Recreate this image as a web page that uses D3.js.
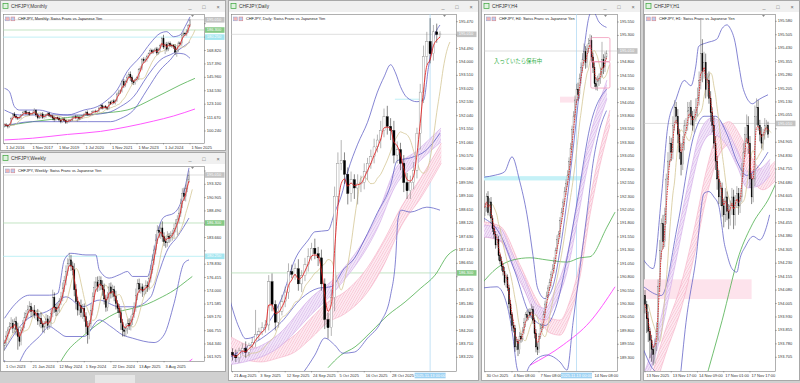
<!DOCTYPE html>
<html>
<head>
<meta charset="utf-8">
<script src="https://cdn.jsdelivr.net/npm/d3@7"></script>
<style>
  body { margin: 0; background: #d3d3d3; }
  svg { display: block; font-family: "Liberation Sans", Arial, sans-serif; }
</style>
</head>
<body>
<script>
// ---------- data ----------
const currentPrice = 195.01;
const greenLevel = 186.30;
const cyanLevel = 180.25;
const cursorLabel = "2025.11.13 00:00";
const noteText = "入っていたら保有中";

// monthly (Jul 2016 .. Nov 2025)
const monthlyClose = [
  105.5,105.0,104.3,106.0,111.0,114.7,
  113.0,111.6,111.2,111.9,114.0,115.8,116.6,114.9,115.9,114.2,114.9,115.6,
  117.8,114.0,111.5,111.8,114.7,111.8,112.6,113.9,115.3,113.4,113.0,111.4,
  109.9,111.5,111.1,109.6,108.3,110.5,109.2,107.6,108.3,109.2,109.6,112.1,
  112.3,111.6,112.0,110.8,111.6,113.2,114.5,116.3,114.5,114.2,114.6,116.9,
  117.2,116.9,117.2,119.8,121.9,119.6,121.1,120.3,119.4,124.5,123.6,125.9,
  124.3,126.2,131.9,133.6,134.8,142.2,139.3,142.5,146.2,148.6,145.7,142.2,
  141.3,144.2,145.7,152.5,153.6,161.0,160.2,161.3,163.8,166.1,168.8,167.6,
  168.6,170.2,166.7,169.7,173.0,179.0,171.8,173.8,170.0,174.9,173.4,172.9,
  172.0,167.5,169.7,175.3,174.6,182.0,183.4,182.9,185.5,190.1,194.9];
const monthlyWickUp = [
  1.2,1.5,1.0,0.8,1.4,0.9,
  1.6,1.1,0.9,1.3,0.8,1.2,0.9,1.5,0.7,1.1,0.8,1.3,
  1.9,1.0,1.4,0.8,1.2,1.6,0.9,1.0,0.8,1.3,0.9,1.1,
  1.5,0.8,1.0,1.2,0.9,1.3,1.4,0.9,0.8,1.1,1.0,0.7,
  1.2,1.6,1.9,0.9,1.1,0.8,1.0,0.9,1.5,1.0,0.8,0.9,
  0.7,1.2,0.9,1.0,0.8,1.4,0.9,1.2,1.0,1.3,1.5,0.8,
  1.4,1.0,1.2,1.9,1.1,1.6,2.3,1.4,2.1,1.8,2.4,1.9,
  1.6,1.3,1.5,1.2,1.8,1.4,2.0,1.6,1.4,1.1,1.9,1.5,
  1.3,1.2,1.7,1.4,1.6,1.5,3.2,1.8,2.4,1.5,1.6,1.3,
  1.4,2.2,1.8,1.3,1.2,1.6,1.9,1.4,1.5,1.3,0.9];
const monthlyWickDn = [
  1.5,0.9,1.8,1.2,1.0,1.3,
  1.0,1.4,1.6,0.9,1.2,0.8,1.1,0.9,1.3,1.0,0.7,1.2,
  0.9,1.8,1.3,1.1,0.9,1.2,1.0,1.4,0.8,1.2,1.5,1.9,
  1.6,1.0,1.2,1.3,1.5,0.9,1.1,1.4,1.0,0.8,1.2,0.9,
  1.0,1.3,3.5,1.5,1.0,0.9,1.1,0.8,1.4,1.0,1.2,0.9,
  1.1,1.0,1.3,0.8,1.2,1.1,0.9,1.0,1.4,1.2,1.0,1.3,
  1.2,1.5,1.0,1.4,1.6,1.8,2.5,1.7,1.5,2.0,2.8,2.2,
  1.9,1.5,1.7,1.8,1.4,1.6,1.9,1.5,2.0,1.7,1.4,1.8,
  1.5,1.6,1.9,1.3,1.8,1.4,1.7,6.0,2.0,1.7,1.5,1.6,
  1.8,2.5,4.0,2.2,1.6,1.8,1.4,1.5,1.9,1.6,1.2];
const monthlyPriceTicks = [100.240,111.670,123.100,134.530,145.960,157.390,168.820,180.250,191.680];
const monthlyDateTicks = ["1 Jul 2016","1 Nov 2017","1 Mar 2019","1 Jul 2020","1 Nov 2021","1 Mar 2023","1 Jul 2024","1 Nov 2025"];
const monthlyDateIdx = [0,16,32,48,64,80,96,112];
const monthlyUpper = [[0,136.6],[3,133.7],[6,121.0],[9,118.1],[21,118.1],[29,115.3],[38,113.9],[48,118.1],[56,121.0],[62,126.7],[68,135.2],[74,150.8],[82,163.6],[88,175.0],[94,183.5],[98,184.9],[102,180.6],[106,182.1],[109,189.1],[112,197.5]];
const monthlyMid = [[0,118.1],[9,113.9],[27,113.9],[48,113.9],[62,115.8],[70,121.0],[78,129.5],[86,146.5],[94,160.7],[102,166.5],[112,176.3]];
const monthlyLower = [[0,104.4],[17,108.2],[38,108.2],[50,108.2],[64,108.2],[70,110.8],[78,118.1],[86,135.2],[94,152.2],[100,160.7],[104,166.5],[108,166.0],[112,162.2]];
const monthlyGreen = [[0,104.4],[17,108.2],[38,111.7],[58,115.3],[74,118.1],[82,122.4],[90,128.1],[98,133.7],[106,139.4],[115,145.1]];
const monthlyMagenta = [[0,92.6],[17,94.1],[38,97.3],[58,99.9],[74,103.8],[90,108.7],[102,113.0],[115,119.0]];

// weekly (1 Oct 2023 .. 16 Nov 2025)
const weeklyClose = [
  164.5,165.8,166.9,167.5,168.1,167.2,168.4,167.0,165.7,164.8,166.9,168.0,169.2,169.9,170.6,171.1,
  170.2,170.5,169.6,169.9,168.5,169.0,168.0,167.4,168.0,168.9,167.7,168.4,169.9,172.8,171.0,170.2,
  171.0,172.0,172.9,174.5,175.9,177.5,179.0,179.6,178.5,177.8,174.2,172.0,170.5,171.3,170.0,170.8,
  169.3,167.5,166.0,168.0,170.4,172.9,174.6,175.6,174.8,175.9,175.0,174.2,172.5,171.0,172.8,174.7,
  173.6,174.2,173.0,171.7,170.8,170.0,168.2,166.9,166.6,167.2,168.1,167.6,168.7,169.8,171.0,173.2,
  175.3,174.3,174.7,173.9,174.2,175.0,174.7,176.3,177.8,179.6,181.4,183.2,185.0,184.6,185.4,183.8,
  182.9,182.7,183.9,183.5,184.0,184.4,185.3,186.2,187.0,188.1,189.9,191.7,191.1,192.6,194.1,195.0];
const weeklyWickUp = [
  0.6,0.9,0.5,0.8,1.1,0.7,0.6,0.9,1.2,0.8,0.5,0.7,0.9,0.6,0.8,1.0,
  0.7,0.5,0.9,0.6,0.8,0.7,1.1,0.6,0.5,0.9,0.7,1.0,0.8,1.4,0.9,0.6,
  0.8,0.7,0.9,1.0,0.8,1.1,0.9,1.3,0.9,0.8,1.2,1.0,0.9,0.7,1.1,0.8,
  0.9,0.8,1.0,0.7,1.2,0.8,1.1,0.9,1.0,0.8,0.7,0.9,1.1,0.8,1.0,0.7,
  0.8,0.9,0.7,1.0,0.6,0.8,0.9,0.7,0.6,0.8,0.7,0.9,0.8,1.0,0.9,1.2,
  0.8,0.9,0.7,0.6,0.8,0.9,0.7,0.8,0.9,1.0,0.8,1.1,0.9,0.7,0.9,1.2,
  0.8,0.7,0.9,0.6,0.8,0.7,0.9,0.8,0.7,1.0,0.8,0.9,1.0,0.7,0.8,0.8];
const weeklyWickDn = [
  0.9,0.6,0.8,0.7,0.5,0.9,0.8,1.1,2.4,0.9,0.7,0.6,0.8,0.7,0.9,0.6,
  1.0,0.8,0.6,0.9,0.7,1.0,0.8,0.9,1.1,0.7,0.8,0.6,0.9,0.7,1.0,0.8,
  0.7,0.9,0.6,0.8,0.7,0.9,0.8,0.6,0.9,1.0,1.2,1.4,1.0,0.9,0.8,1.1,
  0.9,1.2,1.6,0.8,0.7,0.9,0.8,0.7,1.0,0.8,0.9,1.1,1.0,0.8,0.7,0.9,
  1.0,0.8,0.9,1.1,0.8,0.9,1.3,1.2,0.9,0.8,1.0,0.7,0.8,0.9,0.7,0.8,
  0.9,0.7,0.8,1.0,0.7,0.8,0.9,0.6,0.8,0.7,0.9,0.8,0.7,1.0,1.2,0.9,
  0.8,0.9,0.7,0.8,0.6,0.9,0.8,0.7,2.1,0.8,0.7,0.9,0.8,0.9,0.7,0.5];
const weeklyPriceTicks = [161.925,164.340,166.755,169.170,171.585,174.000,176.415,178.830,181.245,183.660,186.075,188.490,190.905,193.320,195.735];
const weeklyDateTicks = ["1 Oct 2023","21 Jan 2024","12 May 2024","1 Sep 2024","22 Dec 2024","13 Apr 2025","3 Aug 2025"];
const weeklyDateIdx = [0,16,32,48,64,80,96];
const weeklyUpper = [[0,169.0],[5,171.1],[15,173.2],[27,173.2],[32,173.5],[36,179.6],[40,180.8],[49,180.5],[55,180.5],[57,177.8],[63,176.3],[69,176.9],[74,177.5],[77,176.6],[86,176.6],[90,181.4],[93,185.6],[96,187.4],[102,188.1],[107,190.8],[111,196.3]];
const weeklyMid = [[0,163.3],[13,168.7],[27,170.5],[37,172.9],[47,171.1],[57,172.3],[69,171.1],[78,171.1],[88,172.9],[92,176.5],[98,181.4],[104,183.8],[111,187.2]];
const weeklyLower = [[0,161.4],[5,159.5],[13,163.3],[21,165.7],[27,167.5],[32,166.6],[37,165.7],[48,165.7],[57,168.7],[64,167.5],[71,166.0],[77,165.4],[90,164.6],[96,166.0],[102,171.7],[108,179.0],[111,179.6]];
const weeklyGreen = [[31,159.6],[37,162.7],[47,165.7],[63,169.3],[69,170.2],[77,170.8],[86,171.6],[93,172.6],[102,174.1],[110,175.9],[113,176.6]];
const weeklyMagenta = [[107,160.3],[113,161.6]];

// daily (21 Aug 2025 .. 18 Nov 2025)
const dailyClose = [
  183.3,183.2,183.45,183.55,183.4,183.65,183.75,184.05,184.15,184.3,
  184.4,185.98,185.15,184.5,184.9,185.25,185.6,186.35,186.25,186.45,
  185.9,186.2,186.6,186.9,187.2,187.0,186.85,185.9,184.6,184.3,
  185.4,189.1,190.3,190.4,189.9,189.2,189.7,189.4,189.55,189.6,
  190.0,190.3,190.55,190.9,191.15,191.5,192.0,191.65,191.5,190.6,
  190.8,190.3,189.6,189.3,189.6,190.05,191.4,192.9,194.2,194.75,
  194.3,195.1,195.0,195.02];
const dailyWickUp = [
  0.15,0.2,0.12,0.18,0.25,0.1,0.2,0.9,0.15,0.2,0.18,0.24,0.3,0.15,0.2,0.25,
  0.2,0.3,0.25,0.2,0.35,0.2,0.25,0.3,0.2,0.35,0.25,0.3,0.2,0.25,0.3,0.35,
  0.4,0.75,0.3,0.25,0.3,0.2,0.35,0.25,0.3,0.2,0.25,0.3,0.2,0.35,0.3,0.4,
  0.3,0.35,0.3,0.25,0.3,0.35,0.25,0.3,0.2,0.3,0.4,0.35,0.85,0.25,0.3,0.1];
const dailyWickDn = [
  0.2,0.15,0.18,0.12,0.2,0.15,0.1,0.15,0.2,0.12,0.18,0.2,0.25,0.3,0.2,0.15,
  0.2,0.25,0.15,0.2,0.25,0.3,0.2,0.25,0.15,0.2,0.3,0.25,0.35,0.4,0.3,0.5,
  0.3,0.25,0.35,0.4,0.3,0.4,0.6,0.3,0.25,0.3,0.2,0.25,0.2,0.3,0.25,0.3,
  0.35,0.3,0.3,0.25,0.35,0.3,0.3,0.25,0.3,0.6,0.4,0.3,0.35,0.25,0.3,0.1];
const dailyPriceTicks = [183.220,183.710,184.200,184.690,185.180,185.670,186.160,186.650,187.140,187.630,188.120,188.610,189.100,189.590,190.080,190.570,191.060,191.550,192.040,192.530,193.020,193.510,194.000,194.490,194.980,195.470];
const dailyDateTicks = ["21 Aug 2025","3 Sep 2025","12 Sep 2025","24 Sep 2025","5 Oct 2025","16 Oct 2025","28 Oct 2025"];
const dailyDateIdx = [0,8,16,24,32,40,48];
const dailyUpper = [[-1,185.4],[2,184.3],[4,183.9],[7,184.0],[11,184.5],[15,185.4],[19,186.8],[23,187.5],[25,187.8],[29,187.85],[31,188.5],[33,189.1],[35,190.0],[38,191.0],[41,191.8],[44,192.9],[46,193.45],[48,193.9],[49.5,193.6],[51,193.1],[53,192.7],[56,192.55],[58,192.6],[59.5,193.8],[61,194.8],[63,195.35]];
const dailyMid = [[-1,183.2],[3.7,183.55],[8.7,183.9],[14.8,184.5],[20.9,185.37],[26,185.74],[30,185.8],[34,186.47],[37,186.83],[40,187.5],[44,188.5],[48,189.5],[50,190.4],[54,190.5],[59,190.8],[63,191.4]];
const dailyLower = [[-1,181.2],[10,181.6],[18,182.2],[22,182.75],[25,183.3],[28,183.92],[31,183.67],[33.5,183.37],[37,183.41],[41,183.92],[45,184.5],[48,185.49],[49.6,186.95],[50.2,188.23],[51.2,188.59],[54,188.52],[59,188.7],[63,188.59]];
const dailyPurple = [[-1,183.35,182.95],[3.7,183.43,183.05],[13.8,184.04,183.56],[23.8,185.39,184.77],[32,186.23,185.76],[44.2,188.49,187.98],[49.3,190.06,189.44],[56.3,190.79,190.32],[63.3,191.59,191.08]];
const dailyPink = [[-1,184.0,183.3],[8.7,183.56,183.05],[13.8,183.67,183.19],[18.9,184.03,183.41],[23.9,184.65,183.92],[29,185.24,184.5],[34,185.6,184.8],[41,186.5,185.6],[46,187.5,186.6],[51.2,188.7,188.0],[57.3,189.8,189.06],[63.4,191.04,190.31]];
const dailyGreen = [[29,182.84],[32.9,183.3],[37.2,183.6],[42,184.14],[47.2,184.76],[52.4,185.24],[57.2,185.75],[61.5,186.22],[65.4,186.95],[68.5,187.2]];
const dailyCyanRect = [49.3, 57.8, 192.66, 192.62];

// H4 (30 Oct 2025 ..)
const h4Close = [
  192.1,192.3,192.0,192.2,191.9,191.7,191.6,191.4,191.5,191.2,
  191.1,191.0,190.9,190.7,190.8,190.6,190.3,190.1,189.9,189.85,
  189.5,189.6,189.45,189.7,189.65,189.8,189.95,190.1,190.05,190.15,
  190.1,190.2,190.0,189.75,189.5,189.45,189.7,189.85,189.9,190.1,
  190.3,190.45,190.6,190.7,190.85,190.95,191.1,191.3,191.5,191.6,
  191.85,192.0,192.2,192.4,192.55,192.7,192.95,193.2,193.55,193.8,
  194.1,194.3,194.2,194.5,194.7,194.85,195.0,194.8,195.05,195.15,
  195.2,194.9,194.7,194.4,194.35,194.45,194.5,194.6,194.85,194.7,
  194.9,194.97];
const h4WickUp = [
  0.08,0.06,0.1,0.07,0.09,0.05,0.08,0.06,0.1,0.07,
  0.05,0.08,0.06,0.09,0.07,0.05,0.06,0.08,0.05,0.07,
  0.06,0.09,0.05,0.08,0.06,0.07,0.09,0.05,0.08,0.06,
  0.07,0.1,0.06,0.05,0.08,0.07,0.06,0.09,0.05,0.07,
  0.06,0.08,0.05,0.07,0.06,0.09,0.07,0.05,0.08,0.06,
  0.07,0.09,0.06,0.08,0.07,0.09,0.08,0.1,0.07,0.09,
  0.08,0.1,0.12,0.09,0.1,0.12,0.15,0.1,0.08,0.1,
  0.12,0.1,0.08,0.1,0.12,0.1,0.09,0.1,0.33,0.1,
  0.1,0.05];
const h4WickDn = [
  0.06,0.08,0.05,0.07,0.1,0.06,0.08,0.07,0.05,0.09,
  0.06,0.08,0.07,0.05,0.09,0.06,0.08,0.07,0.1,0.08,
  0.09,0.06,0.12,0.08,0.07,0.05,0.06,0.08,0.07,0.05,
  0.06,0.08,0.07,0.09,0.1,0.1,0.06,0.05,0.07,0.06,
  0.05,0.07,0.06,0.05,0.08,0.06,0.07,0.05,0.06,0.08,
  0.07,0.06,0.05,0.07,0.08,0.06,0.07,0.08,0.09,0.08,
  0.1,0.09,0.12,0.08,0.1,0.09,0.11,0.12,0.1,0.08,
  0.1,0.09,0.1,0.06,0.07,0.08,0.09,0.1,0.08,0.12,
  0.08,0.05];
const h4PriceTicks = [189.300,189.550,189.800,190.050,190.300,190.550,190.800,191.050,191.300,191.550,191.800,192.050,192.300,192.550,192.800,193.050,193.300,193.550,193.800,194.050,194.300,194.550,194.800,195.050,195.300,195.550];
const h4DateTicks = ["30 Oct 2025","4 Nov 08:00","7 Nov 08:00","14 Nov 08:00"];
const h4DateIdx = [0,18,36,72];
const h4Upper = [[-1,192.66],[7,192.7],[13,192.76],[18,193.04],[23,192.6],[28,191.96],[32,191.2],[35,190.6],[40,190.4],[45,190.6],[50,191.3],[55,192.3],[60,193.5],[65,194.8],[70,195.7],[72,195.75],[76,195.55],[81,195.45]];
const h4Mid = [[-1,191.9],[10,191.6],[20,190.9],[30,190.1],[40,189.9],[48,190.3],[55,191.2],[62,192.3],[70,193.6],[81,194.3]];
const h4Lower = [[-1,190.6],[8,190.62],[14.7,190.28],[18.7,189.67],[21.3,189.11],[25,188.9],[30,189.16],[41.3,189.35],[50,189.22],[54.7,189.07],[58.7,189.96],[63.3,190.97],[68,191.99],[72,192.92],[76,193.5],[81,193.9]];
const h4Purple = [[-1,191.77,191.55],[10,191.71,191.49],[18.7,191.21,190.99],[26.7,190.75,190.53],[34.7,190.28,190.06],[40,190.22,190.0],[46.7,190.56,190.3],[54.7,191.21,190.9],[61.3,192.14,191.8],[68,193.17,192.8],[74.7,193.91,193.55],[81.3,194.47,194.12]];
const h4Pink = [[-1,191.83,191.55],[10,191.75,191.47],[23.3,191.03,190.75],[34.7,190.37,190.09],[43.3,190.04,189.76],[50,190.0,189.72],[56.7,190.37,190.09],[63.3,191.08,190.8],[70,192.24,191.96],[76.7,193.17,192.89],[83.3,193.91,193.63]];
const h4Green = [[-3,190.65],[8,190.97],[18.7,191.12],[30,191.16],[41.3,191.12],[54.7,191.08],[63.3,191.16],[70,191.18],[81.3,191.73],[86.7,192.01]];
const h4Magenta = [[30,189.16],[52.2,189.54],[70,189.97],[86.7,190.62]];
const h4CyanRect = [-2, 66.7, 192.68, 192.6];
const h4PinkRect = [50, 61.3, 194.16, 194.05];
const h4Boxes = [[70.5, 83.3, 195.26, 194.81], [70.5, 83.3, 194.81, 194.32]];
const h4NoteAt = [6, 194.81];

// H1 (13 Nov 2025 ..)
const h1Close = [
  194.0,193.92,193.85,193.8,193.75,193.72,193.78,193.85,194.1,194.3,
  194.45,194.35,194.5,194.7,194.8,194.9,194.85,195.0,195.1,195.05,
  194.95,194.85,194.78,194.9,195.0,195.0,195.08,195.1,195.05,195.0,
  195.05,195.1,195.15,195.25,195.4,195.3,195.35,195.2,195.25,195.15,
  195.07,195.0,194.9,194.8,194.7,194.6,194.65,194.55,194.5,194.6,
  194.52,194.48,194.55,194.6,194.5,194.58,194.62,194.55,194.6,194.75,
  194.85,194.95,195.0,194.9,194.7,194.6,194.7,195.05,195.1,195.0,
  194.95,194.9,194.95,195.0,195.0,194.95];
const h1WickUp = [
  0.03,0.02,0.04,0.02,0.03,0.02,0.03,0.05,0.04,0.06,
  0.03,0.05,0.04,0.03,0.05,0.04,0.03,0.05,0.04,0.03,
  0.04,0.03,0.05,0.04,0.03,0.04,0.05,0.03,0.04,0.03,
  0.04,0.05,0.06,0.05,0.19,0.08,0.06,0.05,0.04,0.05,
  0.04,0.03,0.05,0.04,0.03,0.05,0.04,0.03,0.04,0.05,
  0.03,0.04,0.03,0.05,0.04,0.03,0.04,0.03,0.05,0.04,
  0.05,0.04,0.06,0.05,0.04,0.03,0.05,0.06,0.05,0.04,
  0.03,0.04,0.03,0.04,0.03,0.02];
const h1WickDn = [
  0.05,0.08,0.06,0.1,0.07,0.06,0.05,0.04,0.05,0.03,
  0.05,0.04,0.03,0.05,0.04,0.03,0.05,0.04,0.03,0.04,
  0.05,0.04,0.06,0.03,0.04,0.05,0.03,0.04,0.05,0.03,
  0.04,0.03,0.05,0.04,0.05,0.06,0.04,0.05,0.04,0.03,
  0.05,0.04,0.03,0.05,0.06,0.04,0.05,0.06,0.07,0.04,
  0.05,0.06,0.04,0.05,0.08,0.06,0.04,0.05,0.04,0.03,
  0.04,0.03,0.05,0.06,0.05,0.04,0.03,0.04,0.05,0.03,
  0.04,0.03,0.04,0.03,0.04,0.02];
const h1PriceTicks = [193.705,193.780,193.855,193.930,194.005,194.080,194.155,194.230,194.305,194.380,194.455,194.530,194.605,194.680,194.755,194.830,194.905,194.980,195.055,195.130,195.205,195.280,195.355,195.430,195.505,195.580];
const h1DateTicks = ["13 Nov 2025","13 Nov 17:00","14 Nov 09:00","17 Nov 01:00","17 Nov 17:00"];
const h1DateIdx = [0,16,32,48,64];
const h1Upper = [[-1,194.25],[5,194.2],[10,194.6],[14,195.0],[18.75,195.14],[24,195.25],[28,195.22],[31,195.33],[32.7,195.44],[37.5,195.46],[43.75,195.48],[47,195.54],[50,195.56],[52,195.54],[55,195.46],[57.3,195.33],[60,195.2],[65.6,195.12],[68.75,195.14],[75,195.17]];
const h1Mid = [[-1,194.1],[10,194.05],[20,194.45],[30,194.95],[36,195.05],[43,195.05],[50,194.95],[56,194.8],[62,194.72],[70,194.78],[75,194.85]];
const h1Lower = [[-1,193.75],[4,193.65],[8,193.6],[12,193.45],[18,193.3],[21,193.55],[25,193.9],[31,194.25],[36,194.62],[39,194.63],[42,194.6],[45,194.55],[47,194.43],[48,194.36],[50,194.28],[53,194.2],[56,194.18],[58,194.26],[61,194.32],[66,194.38],[70,194.36],[74,194.43],[76,194.5]];
const h1Purple = [[0,193.63,193.54],[9.4,193.91,193.82],[17.5,194.28,194.18],[26.25,194.67,194.57],[34.4,194.98,194.88],[40.6,195.04,194.95],[48.1,195.0,194.91],[56.25,194.86,194.77],[62.5,194.74,194.65],[68.75,194.75,194.66],[76.25,194.81,194.72]];
const h1Pink = [[5,193.63,193.5],[12.5,193.86,193.72],[21.9,194.11,193.97],[30,194.42,194.27],[37.5,194.75,194.6],[45,194.97,194.83],[51.25,195.02,194.89],[59.4,194.92,194.8],[65.6,194.81,194.69],[71.9,194.75,194.64],[79.4,194.8,194.69]];
const h1Green = [[36,193.55],[47,193.91],[57.5,194.28],[65.6,194.45],[76,194.6],[80,194.68]];
const h1PinkRect = [-2, 65, 194.14, 194.03];

// ---------- drawing ----------
const W = 800, H = 383;
const svg = d3.select("body").append("svg").attr("width", W).attr("height", H);
const defs = svg.append("defs");

function hatch(id, bg, line) {
  const pt = defs.append("pattern").attr("id", id)
    .attr("width", 2.2).attr("height", 2.2)
    .attr("patternUnits", "userSpaceOnUse")
    .attr("patternTransform", "rotate(30)");
  pt.append("rect").attr("width", 2.2).attr("height", 2.2).attr("fill", bg);
  pt.append("line").attr("x1", 0).attr("y1", 0).attr("x2", 0).attr("y2", 2.2)
    .attr("stroke", line).attr("stroke-width", 0.9);
}
hatch("hatchPurple", "#f1e4f8", "#cfa3e6");
hatch("hatchPink", "#fde8ef", "#f5a9c1");

function ema(arr, p) {
  const a = 2 / (p + 1);
  let e = arr[0];
  return arr.map(v => (e = e + a * (v - e)));
}
function sma(arr, n) {
  return arr.map((v, i) => d3.mean(arr.slice(Math.max(0, i - n + 1), i + 1)));
}

// bottom strip
svg.append("rect").attr("x", 0).attr("y", 372).attr("width", W).attr("height", 11).attr("fill", "#d0d0d0");
svg.append("rect").attr("x", 95).attr("y", 375).attr("width", 40).attr("height", 8).attr("fill", "#e6e6e6");

const panels = [
  { title: "CHFJPY,Monthly", legend: "CHFJPY, Monthly:  Swiss Franc vs Japanese Yen",
    win: [0, 0, 226, 151], plot: [3, 14, 204, 143], xr: [4.5, 190], yd: [100.24, 191.68], yr: [131, 23.7],
    bw: 1.1, dateY: 147.5, close: monthlyClose, up: monthlyWickUp, dn: monthlyWickDn, open0: 104.8,
    priceTicks: monthlyPriceTicks, dateTicks: monthlyDateTicks, dateIdx: monthlyDateIdx,
    bands: [monthlyUpper, monthlyMid, monthlyLower], green: monthlyGreen, magenta: monthlyMagenta,
    ribbons: [], levels: true, shift: 3, dashedRed: false },
  { title: "CHFJPY,Weekly", legend: "CHFJPY, Weekly:  Swiss Franc vs Japanese Yen",
    win: [0, 152, 226, 372], plot: [3, 166, 204, 361], xr: [4.5, 189], yd: [161.925, 195.735], yr: [357.3, 171],
    bw: 1.1, dateY: 366.5, close: weeklyClose, up: weeklyWickUp, dn: weeklyWickDn, open0: 164.0,
    priceTicks: weeklyPriceTicks, dateTicks: weeklyDateTicks, dateIdx: weeklyDateIdx,
    bands: [weeklyUpper, weeklyMid, weeklyLower], green: weeklyGreen, magenta: weeklyMagenta,
    ribbons: [], levels: true, shift: 2, dashedRed: false },
  { title: "CHFJPY,Daily", legend: "CHFJPY, Daily:  Swiss Franc vs Japanese Yen",
    win: [228, 0, 479, 381], plot: [231, 14, 456, 371], xr: [232.5, 440], yd: [183.22, 195.47], yr: [357.3, 21.7],
    bw: 2.2, dateY: 375.5, close: dailyClose, up: dailyWickUp, dn: dailyWickDn, open0: 183.4,
    priceTicks: dailyPriceTicks, dateTicks: dailyDateTicks, dateIdx: dailyDateIdx,
    bands: [dailyUpper, dailyMid, dailyLower], green: dailyGreen, magenta: null,
    ribbons: [[dailyPink, "hatchPink", "#f3a0ba"], [dailyPurple, "hatchPurple", "#c99ae2"]],
    levels: true, cyanRect: dailyCyanRect, cursor: 60, shift: 3, dashedRed: false },
  { title: "CHFJPY,H4", legend: "CHFJPY, H4:  Swiss Franc vs Japanese Yen",
    win: [481, 0, 641, 381], plot: [484, 14, 617, 371], xr: [485, 606.5], yd: [189.30, 195.55], yr: [357.7, 22],
    bw: 1.0, dateY: 375.5, close: h4Close, up: h4WickUp, dn: h4WickDn, open0: 192.0,
    priceTicks: h4PriceTicks, dateTicks: h4DateTicks, dateIdx: h4DateIdx,
    bands: [h4Upper, h4Mid, h4Lower], green: h4Green, magenta: h4Magenta,
    ribbons: [[h4Pink, "hatchPink", "#f3a0ba"], [h4Purple, "hatchPurple", "#c99ae2"]],
    levels: false, cyanRect: h4CyanRect, pinkRect: h4PinkRect, boxes: h4Boxes, note: h4NoteAt,
    cursor: 61, shift: 2, dashedRed: true },
  { title: "CHFJPY,H1", legend: "CHFJPY, H1:  Swiss Franc vs Japanese Yen",
    win: [643, 0, 800, 381], plot: [644, 14, 775, 371], xr: [645, 768], yd: [193.705, 195.58], yr: [357.3, 21.3],
    bw: 1.0, dateY: 375.5, close: h1Close, up: h1WickUp, dn: h1WickDn, open0: 194.05,
    priceTicks: h1PriceTicks, dateTicks: h1DateTicks, dateIdx: h1DateIdx,
    bands: [h1Upper, h1Mid, h1Lower], green: h1Green, magenta: null,
    ribbons: [[h1Pink, "hatchPink", "#f3a0ba"], [h1Purple, "hatchPurple", "#c99ae2"]],
    levels: false, pinkRect: h1PinkRect, shift: 2, dashedRed: true }
];

panels.forEach((p, k) => {
  const [wx1, wy1, wx2, wy2] = p.win;
  const [px1, py1, px2, py2] = p.plot;
  const g = svg.append("g");

  // window frame and title bar
  g.append("rect").attr("x", wx1 + 0.5).attr("y", wy1 + 0.5)
    .attr("width", wx2 - wx1 - 1).attr("height", wy2 - wy1 - 1)
    .attr("fill", "#ffffff").attr("stroke", "#a8a8a8");
  g.append("rect").attr("x", wx1 + 1).attr("y", wy1 + 1)
    .attr("width", wx2 - wx1 - 2).attr("height", 11).attr("fill", "#f0f0f0");
  g.append("rect").attr("x", wx1 + 3).attr("y", wy1 + 3.5).attr("width", 5).attr("height", 5)
    .attr("fill", "#dff2df").attr("stroke", "#3aa43a").attr("stroke-width", 0.7);
  g.append("text").attr("x", wx1 + 11).attr("y", wy1 + 8.3)
    .attr("font-size", 4.8).attr("fill", "#333").text(p.title);
  [["_", 36], ["□", 22], ["×", 8]].forEach(([s, off]) => {
    g.append("text").attr("x", wx2 - off).attr("y", wy1 + 8.5).attr("text-anchor", "middle")
      .attr("font-size", 5.5).attr("fill", "#666").text(s);
  });

  const x = d3.scaleLinear().domain([0, p.close.length - 1]).range(p.xr);
  const y = d3.scaleLinear().domain(p.yd).range(p.yr);

  g.append("clipPath").attr("id", "clip" + k).append("rect")
    .attr("x", px1).attr("y", py1).attr("width", px2 - px1).attr("height", py2 - py1);
  g.append("rect").attr("x", px1 + 0.5).attr("y", py1 + 0.5)
    .attr("width", px2 - px1).attr("height", py2 - py1)
    .attr("fill", "#fff").attr("stroke", "#7c7c7c").attr("stroke-width", 0.6);

  const c = g.append("g").attr("clip-path", "url(#clip" + k + ")");
  const hline = (price, color, w) => c.append("line")
    .attr("x1", px1).attr("x2", px2).attr("y1", y(price)).attr("y2", y(price))
    .attr("stroke", color).attr("stroke-width", w);
  const rectOf = (r, fill) => c.append("rect")
    .attr("x", x(r[0])).attr("width", x(r[1]) - x(r[0]))
    .attr("y", y(r[2])).attr("height", y(r[3]) - y(r[2])).attr("fill", fill);

  if (p.levels) {
    hline(greenLevel, "#a9d9a9", 0.7);
    hline(cyanLevel, "#a6e9f2", 0.7);
  }
  hline(currentPrice, "#c8c8c8", 0.6);
  if (p.pinkRect) rectOf(p.pinkRect, "#fde3ec");
  if (p.cyanRect) rectOf(p.cyanRect, "#c5f1f7");
  if (p.cursor !== undefined) {
    c.append("line").attr("x1", x(p.cursor)).attr("x2", x(p.cursor))
      .attr("y1", py1).attr("y2", py2).attr("stroke", "#a9d6f2").attr("stroke-width", 0.7);
  }

  // ribbons
  p.ribbons.forEach(([data, pat, edge]) => {
    c.append("path").datum(data)
      .attr("d", d3.area().x(d => x(d[0])).y0(d => y(d[2])).y1(d => y(d[1])).curve(d3.curveMonotoneX))
      .attr("fill", "url(#" + pat + ")").attr("opacity", 0.9);
    [1, 2].forEach(j => c.append("path").datum(data)
      .attr("d", d3.line().x(d => x(d[0])).y(d => y(d[j])).curve(d3.curveMonotoneX))
      .attr("fill", "none").attr("stroke", edge).attr("stroke-width", 0.5));
  });

  const lineGen = d3.line().x(d => x(d[0])).y(d => y(d[1])).curve(d3.curveMonotoneX);
  const drawLine = (data, color, w, dash) => {
    if (!data) return;
    const path = c.append("path").datum(data).attr("d", lineGen)
      .attr("fill", "none").attr("stroke", color).attr("stroke-width", w);
    if (dash) path.attr("stroke-dasharray", dash);
  };
  drawLine(p.magenta, "#ff45ff", 0.9);
  drawLine(p.green, "#4cae4c", 0.8);
  p.bands.forEach(b => drawLine(b, "#5c5cc4", 0.75));

  // tan displaced average
  const tan = sma(p.close, 6).map((v, i) => [i + p.shift, v]);
  drawLine(tan, "#d4c695", 0.8);

  // candles
  const bars = p.close.map((cl, i) => {
    const o = i ? p.close[i - 1] : p.open0;
    return { i, o, c: cl, h: Math.max(o, cl) + (p.up[i] || 0), l: Math.min(o, cl) - (p.dn[i] || 0) };
  });
  c.selectAll(".wick").data(bars).join("line")
    .attr("x1", d => x(d.i)).attr("x2", d => x(d.i))
    .attr("y1", d => y(d.h)).attr("y2", d => y(d.l))
    .attr("stroke", d => d.c >= d.o ? "#6a6a6a" : "#111").attr("stroke-width", 0.5);
  c.selectAll(".body").data(bars).join("rect")
    .attr("x", d => x(d.i) - p.bw / 2).attr("width", p.bw)
    .attr("y", d => y(Math.max(d.o, d.c)))
    .attr("height", d => Math.max(0.5, Math.abs(y(d.o) - y(d.c))))
    .attr("fill", d => d.c >= d.o ? "#ffffff" : "#000000")
    .attr("stroke", d => d.c >= d.o ? "#777" : "#000").attr("stroke-width", 0.35);

  // fast average
  const red = ema(p.close, 3).map((v, i) => [i, v]);
  drawLine(red, "#e21b1b", 0.85, p.dashedRed ? "1.6,0.9" : null);

  if (p.boxes) {
    p.boxes.forEach(b => c.append("rect")
      .attr("x", x(b[0])).attr("width", x(b[1]) - x(b[0]))
      .attr("y", y(b[2])).attr("height", y(b[3]) - y(b[2])).attr("rx", 1.5)
      .attr("fill", "none").attr("stroke", "#ef8db0").attr("stroke-width", 0.7));
  }
  if (p.note) {
    c.append("text").attr("x", x(p.note[0])).attr("y", y(p.note[1]))
      .attr("dominant-baseline", "middle").attr("font-family", "'Noto Sans CJK JP', sans-serif")
      .attr("font-size", 5.4).attr("fill", "#33b04a").text(noteText);
  }

  // legend
  g.append("rect").attr("x", px1 + 2.5).attr("y", py1 + 3).attr("width", 3.8).attr("height", 3.8)
    .attr("fill", "#f2b6b6").attr("stroke", "#8ea6d8").attr("stroke-width", 0.5);
  g.append("rect").attr("x", px1 + 8).attr("y", py1 + 3).attr("width", 3.8).attr("height", 3.8)
    .attr("fill", "#b9cdf0").attr("stroke", "#e07a7a").attr("stroke-width", 0.5);
  g.append("text").attr("x", px1 + 15).attr("y", py1 + 6.3)
    .attr("font-size", 3.9).attr("fill", "#222").text(p.legend);
  g.append("path").attr("d", `M${px2 - 13},${py1 + 1} l3,0 l-1.5,2 z`).attr("fill", "#8a8a8a");

  // price axis: tags first decide which plain labels stay visible
  const tags = [];
  if (p.levels) {
    if (greenLevel > p.yd[0]) tags.push([greenLevel, "#86c986"]);
    if (cyanLevel > p.yd[0]) tags.push([cyanLevel, "#a4e6f0"]);
  }
  tags.push([currentPrice, "#c3c3c3"]);
  const ax = g.append("g");
  p.priceTicks.forEach(t => {
    ax.append("line").attr("x1", px2).attr("x2", px2 + 2).attr("y1", y(t)).attr("y2", y(t))
      .attr("stroke", "#555").attr("stroke-width", 0.4);
    if (tags.some(([v]) => Math.abs(y(v) - y(t)) < 5.5)) return;
    ax.append("text").attr("x", px2 + 2.8).attr("y", y(t)).attr("dominant-baseline", "middle")
      .attr("font-size", 4).attr("fill", "#333").text(t.toFixed(3));
  });
  tags.forEach(([price, fill]) => {
    ax.append("rect").attr("x", px2 + 1).attr("y", y(price) - 2.8).attr("width", 19.5).attr("height", 5.6)
      .attr("fill", fill);
    ax.append("text").attr("x", px2 + 2.8).attr("y", y(price)).attr("dominant-baseline", "middle")
      .attr("font-size", 4).attr("fill", "#fff").text(price.toFixed(3));
  });

  // date axis
  p.dateTicks.forEach((t, j) => {
    const xx = x(p.dateIdx[j]);
    ax.append("line").attr("x1", xx).attr("x2", xx).attr("y1", py2).attr("y2", py2 + 1.5)
      .attr("stroke", "#555").attr("stroke-width", 0.4);
    ax.append("text").attr("x", xx + 1.5).attr("y", p.dateY).attr("dominant-baseline", "middle")
      .attr("font-size", 4).attr("fill", "#333").text(t);
  });
  if (p.cursor !== undefined) {
    const xx = x(p.cursor);
    ax.append("rect").attr("x", xx - 15.5).attr("y", p.dateY - 2.8).attr("width", 31).attr("height", 5.6)
      .attr("fill", "#9fd3f4");
    ax.append("text").attr("x", xx).attr("y", p.dateY).attr("text-anchor", "middle")
      .attr("dominant-baseline", "middle").attr("font-size", 4).attr("fill", "#fff").text(cursorLabel);
  }
});
</script>
</body>
</html>
